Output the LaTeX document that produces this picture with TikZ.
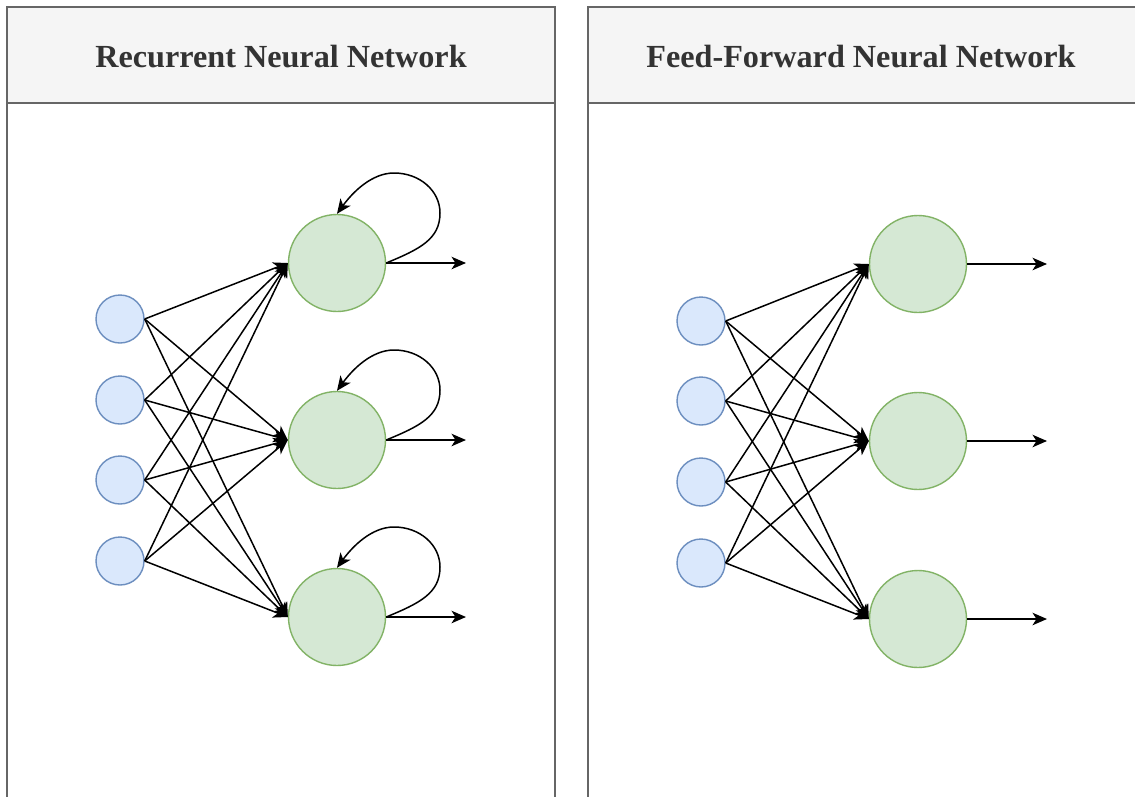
\documentclass[tikz,border=0pt]{standalone}
\usepackage{fontspec}
\setmainfont{Liberation Serif}
\usetikzlibrary{arrows.meta}
\definecolor{hdrfill}{HTML}{F5F5F5}
\definecolor{hdrline}{HTML}{666666}
\definecolor{hdrtext}{HTML}{333333}
\definecolor{infill}{HTML}{DAE8FC}
\definecolor{inline}{HTML}{6C8EBF}
\definecolor{outfill}{HTML}{D5E8D4}
\definecolor{outline}{HTML}{82B366}
\tikzset{
  panel/.style={draw=hdrline, line width=1.4pt, fill=white},
  header/.style={draw=hdrline, line width=1.4pt, fill=hdrfill},
  title/.style={font=\fontsize{32.2}{38}\selectfont\bfseries, text=hdrtext},
  inunit/.style={circle, draw=inline, fill=infill, line width=1.4pt, minimum size=48pt, inner sep=0pt},
  outunit/.style={circle, draw=outline, fill=outfill, line width=1.4pt, minimum size=97pt, inner sep=0pt},
  wire/.style={line width=1.5pt, -{Stealth[length=14.5pt,width=12.5pt,inset=4pt]}}
}
\begin{document}
\begin{tikzpicture}[x=1pt, y=-1pt]
  \useasboundingbox (0,0) rectangle (1135,796);
  \clip (0,0) rectangle (1135,796);

  % panels
  \draw[panel] (7,103) rectangle (555,820);
  \draw[header] (7,7) rectangle (555,103);
  \node[title] (t1) at (281,57) {Recurrent Neural Network};

  \draw[panel] (588,103) rectangle (1140,820);
  \draw[header] (588,7) rectangle (1140,103);
  \node[title] (t2) at (861,57) {Feed-Forward Neural Network};

  % recurrent network
  \foreach \k/\y in {1/319, 2/400, 3/480, 4/561}
    \node[inunit] (a\k) at (120,\y) {};
  \foreach \k/\y in {1/263, 2/440, 3/617}{
    \node[outunit] (r\k) at (337,\y) {};
    \coordinate (ro\k) at (466,\y);
    \coordinate (rx\k) at (440,\y-50);
    \coordinate (rt\k) at (394,\y-90);
  }
  \foreach \i in {1,...,4}
    \foreach \j in {1,2,3}
      \draw[wire] (a\i.east) -- (r\j.west);
  \foreach \j in {1,2,3}{
    \draw[wire] (r\j.east) -- (ro\j);
    % self-recurrent loop on each hidden unit
    \draw[wire] (r\j.east) .. controls +(34,-14) and +(0,26) .. (rx\j)
      .. controls +(0,-22) and +(26,0) .. (rt\j)
      .. controls +(-22,0) and +(16,-22) .. (r\j.north);
  }

  % feed-forward network
  \foreach \k/\y in {1/321, 2/401, 3/482, 4/563}
    \node[inunit] (b\k) at (701,\y) {};
  \foreach \k/\y in {1/264, 2/441, 3/619}{
    \node[outunit] (f\k) at (918,\y) {};
    \coordinate (fo\k) at (1047,\y);
  }
  \foreach \i in {1,...,4}
    \foreach \j in {1,2,3}
      \draw[wire] (b\i.east) -- (f\j.west);
  \foreach \j in {1,2,3}
    \draw[wire] (f\j.east) -- (fo\j);
\end{tikzpicture}
\end{document}
